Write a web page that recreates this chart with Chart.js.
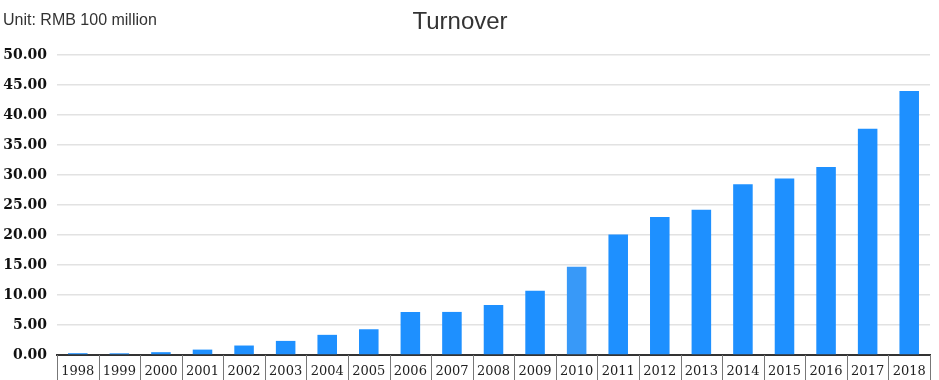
<!DOCTYPE html>
<html>
<head>
<meta charset="utf-8">
<script src="https://cdn.jsdelivr.net/npm/chart.js@4/dist/chart.umd.min.js"></script>
<style>
html,body{margin:0;padding:0;background:#fff;}
#wrap{width:939px;height:380px;position:relative;}
</style>
</head>
<body>
<div id="wrap"><canvas id="c" width="939" height="380"></canvas></div>
<script>
const years = ['1998','1999','2000','2001','2002','2003','2004','2005','2006','2007','2008','2009','2010','2011','2012','2013','2014','2015','2016','2017','2018'];
const turnover = [0.30,0.28,0.47,0.90,1.58,2.35,3.36,4.29,7.18,7.18,8.34,10.70,14.70,20.10,23.00,24.20,28.45,29.40,31.35,37.70,44.00];
const yTicks = {min:0, max:50, step:5};
const titleText = 'Turnover';
const unitText = 'Unit: RMB 100 million';
const highlightedYear = '2010';

const textPlugin = {
  id:'texts',
  afterDraw(chart){
    const ctx = chart.ctx;
    const xs = chart.scales.x;
    const area = chart.chartArea;
    ctx.save();
    // category box dividers below the axis
    ctx.strokeStyle = '#777';
    ctx.lineWidth = 1;
    const n = xs.ticks.length;
    const half = (xs.getPixelForTick(1) - xs.getPixelForTick(0)) / 2;
    ctx.beginPath();
    for (let i = 0; i <= n; i++) {
      const px = Math.round((i < n ? xs.getPixelForTick(i) - half : xs.getPixelForTick(n-1) + half)) + 0.5;
      ctx.moveTo(px, area.bottom);
      ctx.lineTo(px, chart.height);
    }
    ctx.stroke();
    ctx.fillStyle = '#333';
    ctx.textBaseline = 'alphabetic';
    ctx.textAlign = 'left';
    ctx.font = '16px "Liberation Sans", Arial, sans-serif';
    ctx.fillText(unitText, 3, 25);
    ctx.textAlign = 'center';
    ctx.font = '24px "Liberation Sans", Arial, sans-serif';
    ctx.fillText(titleText, 460, 29);
    ctx.restore();
  }
};

new Chart(document.getElementById('c'), {
  type:'bar',
  data:{
    labels: years,
    datasets:[{
      data: turnover,
      backgroundColor: ctx => (years[ctx.dataIndex] === highlightedYear ? '#3899F8' : '#1E90FF'),
      borderWidth:0,
      barPercentage:0.47,
      categoryPercentage:1
    }]
  },
  options:{
    responsive:false,
    animation:false,
    layout:{padding:{left:2,right:9,top:55,bottom:0}},
    plugins:{legend:{display:false},tooltip:{enabled:false},title:{display:false}},
    scales:{
      x:{
        offset:true,
        afterFit(scale){ scale.height = 25; },
        grid:{display:false,drawTicks:false},
        border:{display:true,color:'#333',width:2},
        ticks:{padding:9,color:'#222',font:{family:'"DejaVu Serif", serif',size:13},maxRotation:0,autoSkip:false}
      },
      y:{
        min:yTicks.min,max:yTicks.max,
        afterFit(scale){ scale.width = 55; },
        grid:{color:'#e2e2e2',lineWidth:1.5,drawTicks:false},
        border:{display:false},
        ticks:{stepSize:yTicks.step,padding:10,color:'#111',font:{family:'"DejaVu Serif", serif',size:14,weight:'bold'},callback:v=>Number(v).toFixed(2)}
      }
    }
  },
  plugins:[textPlugin]
});
</script>
</body>
</html>
